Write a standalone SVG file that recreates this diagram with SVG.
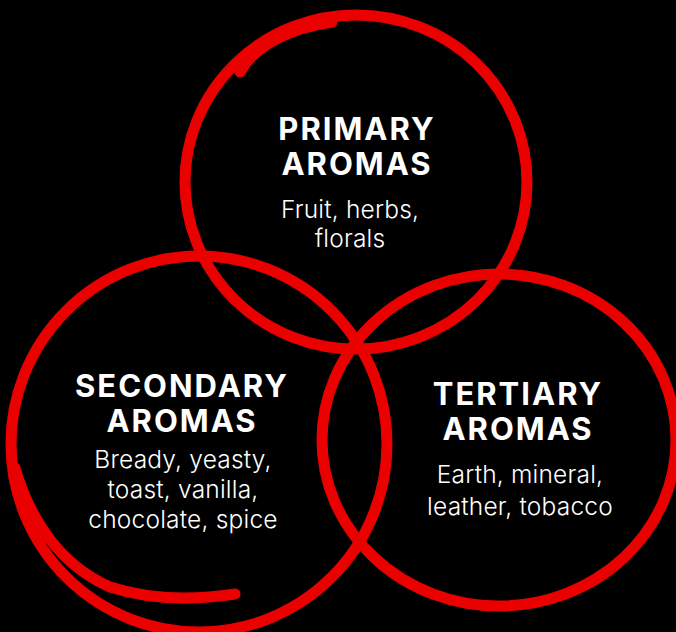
<svg xmlns="http://www.w3.org/2000/svg" width="676" height="632" viewBox="0 0 676 632">
<style>
.ring{fill:none;stroke:#eb0000;stroke-width:11;stroke-linecap:round;stroke-linejoin:round}
.title{font-family:Inter,"Open Sans","Liberation Sans",sans-serif;font-weight:700;font-size:31px;letter-spacing:2px;fill:#fff;text-anchor:middle}
.body{font-family:Inter,"Open Sans","Liberation Sans",sans-serif;font-weight:300;font-size:24.5px;letter-spacing:0.2px;fill:#fff;text-anchor:middle}
</style>
<rect width="676" height="632" fill="#000"/>
<g id="connectors">
</g>
<g id="primary">
<ellipse class="ring" cx="356" cy="182" rx="171" ry="167"/>
<path class="ring" d="M240,72 C255,45 290,28 332,22"/>
<text class="title"><tspan x="357" y="140">PRIMARY</tspan><tspan x="357" y="175">AROMAS</tspan></text>
<text class="body"><tspan x="350" y="218">Fruit, herbs,</tspan><tspan x="350" y="247">florals</tspan></text>
</g>
<g id="secondary">
<ellipse class="ring" cx="199" cy="444" rx="188" ry="188"/>
<path class="ring" d="M15,468 C30,520 60,565 110,587 C150,600 195,600 235,594"/>
<text class="title"><tspan x="182" y="397">SECONDARY</tspan><tspan x="182" y="432">AROMAS</tspan></text>
<text class="body"><tspan x="183" y="468">Bready, yeasty,</tspan><tspan x="183" y="498">toast, vanilla,</tspan><tspan x="183" y="528">chocolate, spice</tspan></text>
</g>
<g id="tertiary">
<ellipse class="ring" cx="499" cy="440" rx="177" ry="166"/>
<text class="title"><tspan x="518" y="405">TERTIARY</tspan><tspan x="518" y="440">AROMAS</tspan></text>
<text class="body"><tspan x="520" y="483">Earth, mineral,</tspan><tspan x="520" y="515">leather, tobacco</tspan></text>
</g>
</svg>
